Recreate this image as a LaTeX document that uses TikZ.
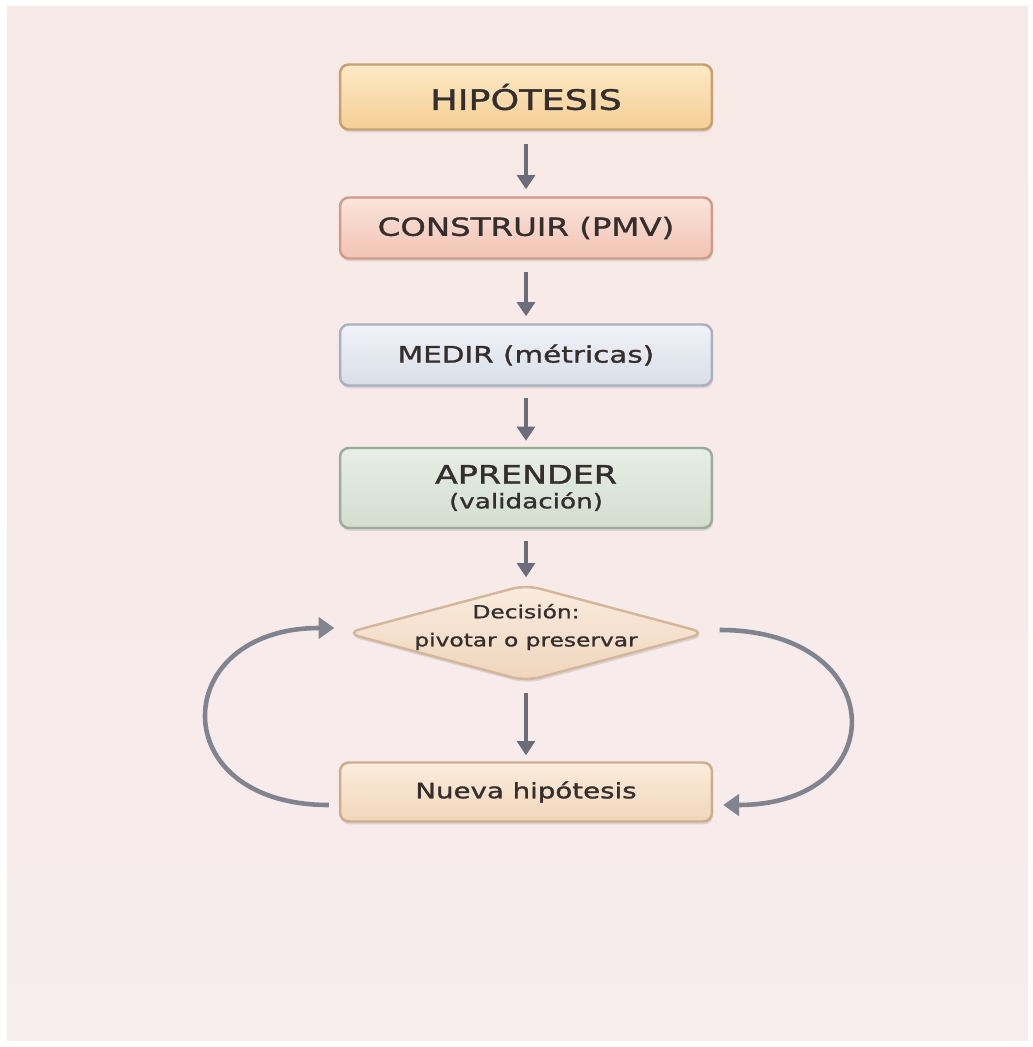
\documentclass[tikz,border=0pt]{standalone}
\usepackage{fontspec}
\setmainfont[FakeStretch=1.3, FakeBold=1.3]{DejaVu Sans}
\usetikzlibrary{arrows.meta,shapes.geometric,shadows}
\definecolor{ink}{HTML}{352E2E}
\definecolor{arrowgray}{HTML}{6B6D7A}
\definecolor{bgtop}{HTML}{F7E9E5}
\definecolor{bgbot}{HTML}{F7ECEE}
\tikzset{
  box/.style={rectangle, rounded corners=5pt, minimum width=7.44cm, minimum height=1.22cm,
    line width=1.4pt, text=ink, align=center,
    drop shadow={opacity=0.22, shadow xshift=0.6pt, shadow yshift=-1.6pt}},
  hypbox/.style={box, draw=HypEdge, top color=HypTop, bottom color=HypBot, minimum height=1.3cm,
    font=\fontsize{16}{18}\selectfont},
  buildbox/.style={box, draw=BuildEdge, top color=BuildTop, bottom color=BuildBot,
    font=\fontsize{14.2}{16}\selectfont},
  measurebox/.style={box, draw=MeasEdge, top color=MeasTop, bottom color=MeasBot,
    font=\fontsize{12.9}{15}\selectfont},
  learnbox/.style={box, draw=LearnEdge, top color=LearnTop, bottom color=LearnBot, minimum height=1.6cm,
    font=\fontsize{14.6}{15}\selectfont},
  decision/.style={diamond, rounded corners=8pt, minimum width=7.22cm, minimum height=1.94cm,
    line width=1.4pt, draw=DecEdge, top color=DecTop, bottom color=DecBot,
    drop shadow={opacity=0.22, shadow xshift=0.6pt, shadow yshift=-1.6pt}},
  dectext/.style={text=ink, align=center, font=\fontsize{10.2}{16}\selectfont},
  newbox/.style={box, draw=NewEdge, top color=NewTop, bottom color=NewBot, minimum height=1.18cm,
    font=\fontsize{12.1}{14}\selectfont},
  flow/.style={draw=arrowgray, line width=2.3pt, -{Triangle[width=10pt,length=8pt]}},
  loop/.style={draw=arrowgray!85, line width=2.6pt, -{Triangle[width=12pt,length=9pt]}}
}
\definecolor{HypTop}{HTML}{FCEAC6}
\definecolor{HypBot}{HTML}{F5CE94}
\definecolor{HypEdge}{HTML}{C79F72}
\definecolor{BuildTop}{HTML}{FBE4DB}
\definecolor{BuildBot}{HTML}{F1C3B3}
\definecolor{BuildEdge}{HTML}{CF9C8C}
\definecolor{MeasTop}{HTML}{F0F2F7}
\definecolor{MeasBot}{HTML}{D9DEE8}
\definecolor{MeasEdge}{HTML}{A9B1BF}
\definecolor{LearnTop}{HTML}{E8EFE6}
\definecolor{LearnBot}{HTML}{D2DDCF}
\definecolor{LearnEdge}{HTML}{9DAC9A}
\definecolor{DecTop}{HTML}{FAECDF}
\definecolor{DecBot}{HTML}{EFD5BC}
\definecolor{DecEdge}{HTML}{D4B69B}
\definecolor{NewTop}{HTML}{FBECDB}
\definecolor{NewBot}{HTML}{F1D6BA}
\definecolor{NewEdge}{HTML}{CBAD8F}
\begin{document}
\begin{tikzpicture}[x=0.02cm, y=-0.02cm]
  % page and background
  \useasboundingbox (0,0) rectangle (1033,1047);
  \fill[white] (0,0) rectangle (1033,1047);
  \fill[top color=bgtop, bottom color=bgbot] (7,7) rectangle (1028,1040);

  % steps
  \node[hypbox] (hyp) at (526,97) {HIPÓTESIS};
  \node[buildbox] (build) at (526,228) {CONSTRUIR (PMV)};
  \node[measurebox] (measure) at (526,355) {MEDIR (métricas)};
  \node[learnbox] (learn) at (526,488) {APRENDER\\[-1pt]{\fontsize{11.5}{13}\selectfont (validación)}};
  \node[decision, label={[dectext, yshift=0.12cm]center:Decisión:\\pivotar o preservar}] (dec) at (526,633) {};
  \node[newbox] (newhyp) at (526,792) {Nueva hipótesis};

  % arrows
  \draw[flow, shorten <=0.26cm, shorten >=0.14cm] (hyp) -- (build);
  \draw[flow, shorten <=0.24cm, shorten >=0.14cm] (build) -- (measure);
  \draw[flow, shorten <=0.22cm, shorten >=0.12cm] (measure) -- (learn);
  \draw[flow, shorten <=0.24cm, shorten >=0.12cm] (learn) -- (dec);
  \draw[flow, shorten <=0.2cm, shorten >=0.12cm] (dec) -- (newhyp);

  % feedback loops
  \coordinate (lfrom) at ([xshift=-0.2cm, yshift=-0.26cm]newhyp.west);
  \coordinate (lto) at ([xshift=-0.2cm, yshift=0.1cm]dec.west);
  \coordinate (rfrom) at ([xshift=0.24cm, yshift=0.06cm]dec.east);
  \coordinate (rto) at ([xshift=0.2cm, yshift=-0.26cm]newhyp.east);
  \draw[loop] (lfrom) to[out=180, in=180, looseness=2.4] (lto);
  \draw[loop] (rfrom) to[out=0, in=0, looseness=2.5] (rto);
\end{tikzpicture}
\end{document}
